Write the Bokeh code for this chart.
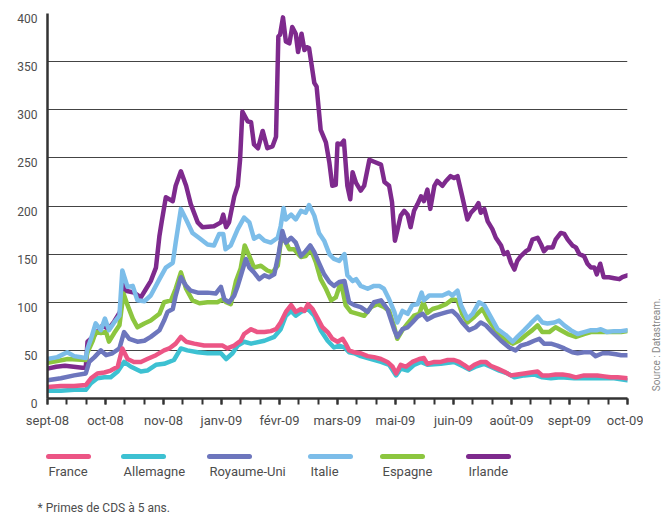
import math
from bokeh.plotting import figure
from bokeh.models import Range1d, FixedTicker
from bokeh.layouts import column, row
from bokeh.core.properties import value
from bokeh.embed import file_html
from bokeh.resources import INLINE

months = ["sept-08", "oct-08", "nov-08", "janv-09", "févr-09", "mars-09",
          "mai-09", "juin-09", "août-09", "sept-09", "oct-09"]
y_ticks = [0, 50, 100, 150, 200, 250, 300, 350, 400]

france_t = [0, 0.23, 0.46, 0.66, 0.75, 0.86, 0.98, 1.09, 1.21, 1.29,
            1.38, 1.49, 1.61, 1.72, 1.87, 2.01, 2.10, 2.21, 2.30, 2.39,
            2.53, 2.70, 2.87, 3.02, 3.10, 3.22, 3.33, 3.39, 3.51, 3.62,
            3.74, 3.85, 3.94, 4.02, 4.11, 4.20, 4.28, 4.37, 4.43, 4.49,
            4.57, 4.66, 4.74, 4.83, 4.91, 5.00, 5.09, 5.14, 5.20, 5.29,
            5.40, 5.52, 5.63, 5.75, 5.86, 5.95, 6.01, 6.09, 6.18, 6.29,
            6.41, 6.49, 6.55, 6.67, 6.78, 6.90, 7.01, 7.10, 7.18, 7.27,
            7.36, 7.47, 7.56, 7.64, 7.76, 7.87, 7.99, 8.10, 8.22, 8.33,
            8.45, 8.53, 8.65, 8.76, 8.88, 8.99, 9.11, 9.25, 9.37, 9.48,
            9.60, 9.71, 9.83, 10.0]
france_v = [12, 13, 13, 14, 21, 26, 27, 29, 33, 52,
            41, 38, 38, 41, 45, 50, 52, 57, 64, 59,
            57, 55, 55, 55, 52, 55, 60, 67, 72, 69,
            69, 70, 72, 79, 90, 97, 90, 93, 91, 98,
            93, 83, 74, 69, 62, 59, 62, 57, 50, 48,
            47, 44, 43, 41, 38, 33, 26, 35, 33, 38,
            41, 42, 36, 38, 38, 40, 40, 38, 35, 31,
            35, 38, 38, 34, 31, 28, 24, 25, 26, 27,
            28, 24, 24, 25, 25, 24, 22, 24, 24, 24,
            23, 22, 22, 21]

allemagne_t = [0, 0.23, 0.46, 0.66, 0.75, 0.86, 0.98, 1.09, 1.21, 1.32,
               1.44, 1.61, 1.72, 1.87, 2.01, 2.18, 2.30, 2.41, 2.59, 2.76,
               2.99, 3.08, 3.19, 3.28, 3.39, 3.51, 3.74, 3.91, 4.02, 4.11,
               4.20, 4.28, 4.37, 4.49, 4.60, 4.71, 4.83, 4.94, 5.03, 5.12,
               5.20, 5.29, 5.40, 5.58, 5.75, 5.89, 6.01, 6.09, 6.21, 6.32,
               6.44, 6.55, 6.78, 7.01, 7.18, 7.27, 7.38, 7.53, 7.64, 7.79,
               7.93, 8.05, 8.22, 8.39, 8.53, 8.68, 8.85, 9.08, 9.31, 9.54,
               9.77, 10.0]
allemagne_v = [8, 8, 9, 9, 16, 21, 22, 22, 28, 38,
               33, 28, 29, 35, 36, 40, 52, 50, 48, 47,
               47, 41, 47, 55, 59, 57, 60, 64, 72, 86,
               91, 86, 90, 93, 86, 71, 60, 53, 55, 53,
               48, 47, 44, 41, 38, 35, 24, 31, 29, 35,
               38, 35, 36, 38, 33, 30, 33, 36, 33, 29,
               26, 22, 24, 25, 22, 21, 22, 21, 21, 21,
               21, 19]

ru_t = [0, 0.23, 0.46, 0.66, 0.72, 0.81, 0.92, 1.01, 1.12, 1.24,
        1.32, 1.41, 1.55, 1.67, 1.78, 1.93, 2.01, 2.07, 2.16, 2.21,
        2.30, 2.39, 2.47, 2.59, 2.76, 2.90, 2.99, 3.05, 3.13, 3.22,
        3.28, 3.33, 3.42, 3.48, 3.56, 3.65, 3.74, 3.82, 3.91, 3.99,
        4.05, 4.11, 4.20, 4.28, 4.37, 4.45, 4.53, 4.60, 4.68, 4.77,
        4.86, 4.94, 5.03, 5.12, 5.20, 5.29, 5.40, 5.52, 5.63, 5.75,
        5.86, 5.98, 6.03, 6.12, 6.21, 6.29, 6.38, 6.47, 6.55, 6.67,
        6.78, 6.90, 6.98, 7.07, 7.15, 7.27, 7.38, 7.47, 7.56, 7.67,
        7.82, 7.96, 8.07, 8.16, 8.28, 8.39, 8.48, 8.56, 8.68, 8.79,
        8.91, 9.05, 9.14, 9.25, 9.37, 9.45, 9.57, 9.68, 9.80, 9.89,
        10.0]
ru_v = [19, 21, 24, 26, 38, 43, 50, 45, 47, 52,
        69, 62, 59, 60, 64, 71, 81, 90, 93, 107,
        126, 117, 112, 110, 110, 109, 116, 103, 100, 107,
        117, 127, 145, 136, 131, 124, 128, 126, 129, 152,
        174, 162, 167, 162, 148, 153, 159, 152, 141, 129,
        121, 117, 121, 122, 100, 97, 95, 90, 100, 102,
        93, 71, 64, 72, 74, 79, 85, 88, 82, 86,
        88, 90, 91, 86, 79, 71, 74, 79, 76, 69,
        60, 53, 50, 55, 57, 60, 62, 57, 57, 55,
        52, 48, 47, 48, 48, 44, 47, 47, 46, 45,
        45]

italie_t = [0, 0.17, 0.34, 0.46, 0.66, 0.69, 0.75, 0.83, 0.92, 0.99,
            1.06, 1.15, 1.24, 1.29, 1.38, 1.47, 1.55, 1.67, 1.78, 1.93,
            2.04, 2.16, 2.21, 2.30, 2.39, 2.50, 2.61, 2.76, 2.87, 2.96,
            3.03, 3.07, 3.16, 3.28, 3.39, 3.48, 3.56, 3.65, 3.74, 3.85,
            3.97, 4.02, 4.07, 4.11, 4.20, 4.28, 4.37, 4.45, 4.51, 4.60,
            4.68, 4.77, 4.86, 4.94, 5.03, 5.12, 5.17, 5.26, 5.32, 5.40,
            5.52, 5.63, 5.72, 5.80, 5.89, 5.98, 6.03, 6.12, 6.21, 6.29,
            6.38, 6.45, 6.49, 6.58, 6.70, 6.81, 6.92, 6.98, 7.07, 7.13,
            7.24, 7.33, 7.44, 7.53, 7.64, 7.76, 7.90, 8.02, 8.10, 8.22,
            8.33, 8.45, 8.53, 8.62, 8.74, 8.82, 8.91, 9.02, 9.14, 9.25,
            9.37, 9.48, 9.54, 9.65, 9.77, 9.89, 10.0]
italie_v = [41, 43, 48, 44, 42, 52, 62, 78, 71, 83,
            71, 79, 86, 133, 116, 117, 102, 101, 107, 124,
            136, 141, 162, 197, 186, 172, 167, 160, 159, 171,
            171, 155, 159, 176, 188, 183, 166, 169, 164, 162,
            167, 179, 198, 186, 191, 186, 195, 193, 201, 190,
            172, 164, 150, 145, 143, 150, 128, 122, 124, 117,
            114, 117, 117, 114, 103, 90, 79, 91, 88, 97,
            98, 110, 102, 107, 107, 107, 110, 107, 112, 97,
            83, 88, 100, 97, 85, 72, 66, 59, 64, 71,
            78, 85, 79, 78, 79, 81, 76, 71, 67, 69,
            71, 71, 72, 69, 70, 70, 71]

espagne_t = [0, 0.35, 0.66, 0.69, 0.78, 0.83, 0.92, 1.01, 1.06, 1.15,
             1.24, 1.31, 1.38, 1.47, 1.55, 1.67, 1.78, 1.93, 2.01, 2.13,
             2.21, 2.30, 2.39, 2.50, 2.62, 2.76, 2.93, 3.02, 3.08, 3.16,
             3.25, 3.33, 3.40, 3.48, 3.56, 3.68, 3.79, 3.88, 3.97, 4.02,
             4.08, 4.17, 4.25, 4.37, 4.45, 4.54, 4.63, 4.71, 4.80, 4.89,
             4.97, 5.06, 5.14, 5.23, 5.35, 5.46, 5.58, 5.69, 5.80, 5.89,
             5.98, 6.03, 6.12, 6.21, 6.32, 6.41, 6.48, 6.55, 6.64, 6.75,
             6.87, 6.98, 7.07, 7.15, 7.24, 7.36, 7.50, 7.59, 7.73, 7.87,
             8.02, 8.13, 8.25, 8.36, 8.45, 8.53, 8.65, 8.76, 8.85, 8.97,
             9.11, 9.25, 9.37, 9.54, 9.71, 9.89, 10.0]
espagne_v = [37, 41, 40, 48, 60, 69, 68, 69, 59, 68,
             76, 109, 97, 83, 74, 78, 81, 88, 100, 102,
             114, 131, 114, 102, 99, 100, 100, 103, 100, 98,
             122, 135, 159, 148, 136, 138, 133, 131, 138, 162,
             166, 155, 155, 147, 148, 155, 141, 124, 114, 102,
             105, 121, 97, 90, 88, 86, 95, 98, 95, 91,
             74, 62, 71, 78, 86, 88, 100, 89, 93, 95,
             98, 103, 102, 88, 79, 85, 93, 83, 71, 62,
             57, 60, 66, 71, 76, 69, 69, 74, 71, 67,
             64, 67, 69, 69, 69, 69, 70]

irlande_t = [0, 0.15, 0.30, 0.45, 0.60, 0.66, 0.69, 0.80, 0.95, 1.05,
             1.15, 1.25, 1.31, 1.35, 1.49, 1.61, 1.70, 1.78, 1.87, 1.93,
             1.97, 2.04, 2.16, 2.21, 2.30, 2.39, 2.47, 2.59, 2.67, 2.87,
             2.99, 3.03, 3.08, 3.13, 3.22, 3.28, 3.32, 3.36, 3.45, 3.51,
             3.56, 3.63, 3.71, 3.79, 3.88, 3.94, 3.98, 4.01, 4.06, 4.11,
             4.17, 4.22, 4.28, 4.32, 4.38, 4.43, 4.47, 4.51, 4.60, 4.64,
             4.71, 4.80, 4.86, 4.91, 4.97, 5.00, 5.06, 5.11, 5.17, 5.22,
             5.26, 5.32, 5.40, 5.46, 5.55, 5.63, 5.75, 5.81, 5.89, 5.94,
             5.99, 6.03, 6.09, 6.15, 6.21, 6.26, 6.32, 6.38, 6.44, 6.49,
             6.55, 6.60, 6.67, 6.72, 6.81, 6.87, 6.95, 7.01, 7.07, 7.15,
             7.24, 7.30, 7.38, 7.43, 7.47, 7.53, 7.59, 7.67, 7.73, 7.82,
             7.87, 7.93, 7.99, 8.05, 8.10, 8.16, 8.25, 8.30, 8.36, 8.45,
             8.51, 8.56, 8.62, 8.71, 8.76, 8.85, 8.91, 8.97, 9.05, 9.11,
             9.17, 9.25, 9.31, 9.37, 9.43, 9.47, 9.53, 9.59, 9.68, 9.77,
             9.86, 9.91, 10.0]
irlande_v = [31, 33, 34, 33, 32, 32, 59, 65, 76, 72,
             80, 90, 119, 112, 110, 105, 114, 122, 136, 169,
             184, 209, 205, 221, 236, 221, 202, 183, 178, 179,
             183, 191, 178, 183, 210, 221, 248, 298, 288, 287,
             264, 260, 278, 260, 262, 272, 376, 378, 396, 371,
             369, 386, 379, 360, 379, 362, 365, 364, 328, 324,
             279, 266, 245, 221, 222, 265, 264, 268, 221, 207,
             235, 224, 216, 221, 248, 246, 243, 225, 221, 204,
             164, 174, 190, 195, 191, 178, 195, 202, 210, 205,
             217, 197, 221, 226, 221, 226, 231, 229, 231, 210,
             186, 193, 198, 203, 193, 197, 184, 176, 167, 159,
             150, 152, 141, 134, 143, 148, 153, 155, 165, 167,
             160, 153, 157, 157, 165, 172, 171, 165, 159, 157,
             150, 148, 140, 136, 136, 129, 140, 126, 126, 125,
             124, 126, 128]

series_names = ["France", "Allemagne", "Royaume-Uni", "Italie", "Espagne", "Irlande"]
series_colors = ["#EC5585", "#3DC1D2", "#6D76BD", "#7CBDE9", "#8CC63F", "#7E2A8D"]
series_data = {
    "France": (france_t, france_v),
    "Allemagne": (allemagne_t, allemagne_v),
    "Royaume-Uni": (ru_t, ru_v),
    "Italie": (italie_t, italie_v),
    "Espagne": (espagne_t, espagne_v),
    "Irlande": (irlande_t, irlande_v),
}
draw_order = ["Irlande", "Espagne", "Italie", "Royaume-Uni", "Allemagne", "France"]
source_text = "Source : Datastream."
footnote_text = "* Primes de CDS à 5 ans."

FONT = "Roboto"
TXT = "#4d4d4d"

MAIN_H = 430
p = figure(width=643, height=MAIN_H, x_range=Range1d(0, 10), y_range=Range1d(0, 400),
           output_backend="svg", toolbar_location=None,
           min_border_left=47, min_border_right=16, min_border_top=13, min_border_bottom=30)
p.outline_line_color = None
p.background_fill_color = "white"
p.border_fill_color = "white"
p.xgrid.visible = False
p.ygrid.ticker = FixedTicker(ticks=y_ticks)
p.ygrid.grid_line_color = "#444444"
p.ygrid.grid_line_width = 1.2

p.yaxis.ticker = FixedTicker(ticks=y_ticks)
# an empty first line drops each y label a little below its grid line, as in the original
p.yaxis.major_label_overrides = {t: "\n" + str(t) for t in y_ticks}
p.yaxis.major_label_text_line_height = 0.8
p.yaxis.major_tick_out = 0
p.yaxis.major_tick_in = 0
p.yaxis.minor_tick_out = 0
p.yaxis.minor_tick_in = 0
p.yaxis.axis_line_width = 2.5
p.yaxis.axis_line_color = "#333333"
p.yaxis.major_label_standoff = 10
p.yaxis.major_label_text_font = FONT
p.yaxis.major_label_text_font_size = "12px"
p.yaxis.major_label_text_color = TXT

p.xaxis.ticker = FixedTicker(ticks=list(range(11)), minor_ticks=[i / 3 for i in range(31)])
p.xaxis.major_label_overrides = {i: m for i, m in enumerate(months)}
p.xaxis.major_tick_out = 6
p.xaxis.major_tick_in = 0
p.xaxis.minor_tick_out = 6
p.xaxis.minor_tick_in = 0
p.xaxis.major_tick_line_width = 2
p.xaxis.minor_tick_line_width = 2
p.xaxis.major_tick_line_color = "#333333"
p.xaxis.minor_tick_line_color = "#333333"
p.xaxis.axis_line_width = 2.5
p.xaxis.axis_line_color = "#333333"
p.xaxis.major_label_standoff = 8
p.xaxis.major_label_text_font = FONT
p.xaxis.major_label_text_font_size = "13px"
p.xaxis.major_label_text_color = TXT

color_of = dict(zip(series_names, series_colors))
for name in draw_order:
    t, v = series_data[name]
    p.line(t, v, line_color=color_of[name], line_width=4.5,
           line_join="round", line_cap="round")

# narrow side panel for the vertical source note
src = figure(width=22, height=MAIN_H, x_range=Range1d(0, 22), y_range=Range1d(0, MAIN_H),
             output_backend="svg", toolbar_location=None, min_border=0)
src.outline_line_color = None
src.axis.visible = False
src.grid.visible = False
src.text(x=[13], y=[60], text=[source_text], angle=math.pi / 2,
         text_align="center", text_baseline="middle",
         text_font=value(FONT), text_font_size="10px", text_color="#8a8a8a")

# legend + footnote panel
LG_H = 88
lg = figure(width=665, height=LG_H, x_range=Range1d(0, 665), y_range=Range1d(0, LG_H),
            output_backend="svg", toolbar_location=None, min_border=0)
lg.outline_line_color = None
lg.axis.visible = False
lg.grid.visible = False
legend_x = [48, 123, 209, 310, 382, 468]
legend_len = 40
lg.segment(x0=legend_x, y0=[62] * 6, x1=[x + legend_len for x in legend_x], y1=[62] * 6,
           line_color=series_colors, line_width=5, line_cap="round")
lg.text(x=legend_x, y=[47] * 6, text=series_names, text_align="left", text_baseline="middle",
        text_font=value(FONT), text_font_size="13px", text_color=TXT)
lg.text(x=[37], y=[11], text=[footnote_text], text_align="left", text_baseline="middle",
        text_font=value(FONT), text_font_size="12px", text_color=TXT)

layout = column(row(p, src, spacing=0), lg, spacing=0)
open("out.html", "w").write(file_html(layout, INLINE))
